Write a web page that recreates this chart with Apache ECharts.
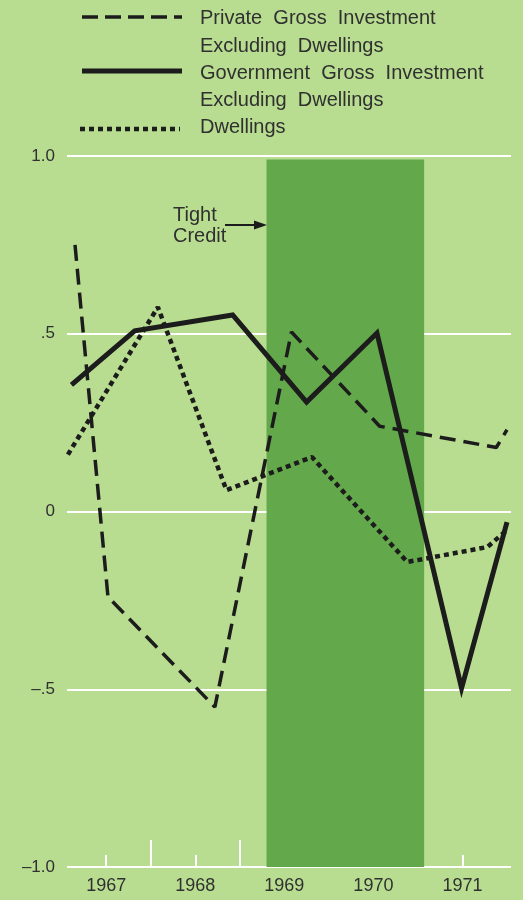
<!DOCTYPE html>
<html lang="en">
<head>
	<meta charset="UTF-8">
	<title>Investment and Tight Credit</title>
	<script src="https://cdn.jsdelivr.net/npm/echarts@6/dist/echarts.min.js"></script>
	<style>
		html, body { margin: 0; padding: 0; background: #b8dd90; }
		#main { width: 523px; height: 900px; }
	</style>
</head>
<body>
	<div id="main"></div>
<script>
// values, x in years
var privateYears = [1967.15, 1967.52, 1968.72, 1969.58, 1970.57, 1971.88, 1972.0];
var privateValues = [0.75, -0.24, -0.55, 0.505, 0.24, 0.18, 0.23];

var govYears = [1967.11, 1967.82, 1968.92, 1969.75, 1970.54, 1971.49, 1972.0];
var govValues = [0.356, 0.508, 0.553, 0.308, 0.502, -0.497, -0.03];

var dwellYears = [1967.07, 1968.08, 1968.85, 1969.81, 1970.88, 1971.78, 1972.0];
var dwellValues = [0.16, 0.575, 0.06, 0.153, -0.142, -0.10, -0.052];

// tight credit period
var tightStart = 1969.30;
var tightEnd = 1971.07;

var yearLabels = ['1967', '1968', '1969', '1970', '1971'];
var yearLabelAt = [1967.5, 1968.5, 1969.5, 1970.5, 1971.5];
var longTicks = [1968, 1969];
var shortTicks = [1967.5, 1968.5, 1971.5];

var yTickValues = [-1, -0.5, 0, 0.5, 1];
var yTickLabels = ['\u20131.0', '\u2013.5', '0', '.5', '1.0'];

function pairs(xs, ys) {
	return xs.map(function (x, i) { return [x, ys[i]]; });
}

var ink = '#1c1c1c';
var textColor = '#303030';
var font = '"Liberation Sans", Arial, sans-serif';

var chart = echarts.init(document.getElementById('main'));

var xBase = {
	type: 'value',
	min: 1967.06,
	max: 1972.045,
	position: 'bottom',
	axisLine: { show: false, onZero: false },
	splitLine: { show: false }
};

var option = {
	backgroundColor: '#b8dd90',
	animation: false,
	grid: { left: 67, right: 12, top: 156, bottom: 33 },
	xAxis: [
		Object.assign({}, xBase, {
			axisTick: { show: true, inside: true, length: 27, customValues: longTicks,
				lineStyle: { color: '#ffffff', width: 2 } },
			axisLabel: { show: false }
		}),
		Object.assign({}, xBase, {
			axisTick: { show: true, inside: true, length: 12, customValues: shortTicks,
				lineStyle: { color: '#ffffff', width: 2 } },
			axisLabel: {
				customValues: yearLabelAt,
				margin: 10,
				color: textColor,
				fontFamily: font,
				fontSize: 18,
				formatter: function (v) {
					var i = yearLabelAt.indexOf(v);
					return i >= 0 ? yearLabels[i] : '';
				}
			}
		})
	],
	yAxis: {
		type: 'value',
		min: -1,
		max: 1,
		interval: 0.5,
		axisLine: { show: false },
		axisTick: { show: false },
		splitLine: { show: true, lineStyle: { color: '#ffffff', width: 2 } },
		axisLabel: {
			margin: 12,
			color: textColor,
			fontFamily: font,
			fontSize: 17,
			formatter: function (v) {
				var i = yTickValues.indexOf(v);
				return i >= 0 ? yTickLabels[i] : '';
			}
		}
	},
	series: [
		{
			name: 'Tight Credit',
			type: 'line',
			z: 1,
			data: [],
			silent: true,
			markArea: {
				silent: true,
				itemStyle: { color: '#63a94b', opacity: 1 },
				data: [[{ xAxis: tightStart, yAxis: 0.99 }, { xAxis: tightEnd, yAxis: -1 }]]
			}
		},
		{
			name: 'Private Gross Investment Excluding Dwellings',
			type: 'line',
			z: 3,
			showSymbol: false,
			data: pairs(privateYears, privateValues),
			lineStyle: { color: ink, width: 3.5, type: [16, 8], cap: 'butt' }
		},
		{
			name: 'Government Gross Investment Excluding Dwellings',
			type: 'line',
			z: 4,
			showSymbol: false,
			data: pairs(govYears, govValues),
			lineStyle: { color: ink, width: 5, join: 'miter' }
		},
		{
			name: 'Dwellings',
			type: 'line',
			z: 3,
			showSymbol: false,
			data: pairs(dwellYears, dwellValues),
			lineStyle: { color: ink, width: 4.5, type: [5, 4], cap: 'butt' }
		}
	],
	graphic: [
		// legend samples
		{ type: 'line', shape: { x1: 82, y1: 17, x2: 182, y2: 17 },
			style: { stroke: ink, lineWidth: 3.5, lineDash: [16, 7] } },
		{ type: 'line', shape: { x1: 82, y1: 71, x2: 182, y2: 71 },
			style: { stroke: ink, lineWidth: 5 } },
		{ type: 'line', shape: { x1: 80, y1: 129, x2: 180, y2: 129 },
			style: { stroke: ink, lineWidth: 4.5, lineDash: [5, 4] } },
		// legend texts
		{ type: 'text', x: 200, y: 18, style: { text: 'Private  Gross  Investment', fill: textColor,
			font: '20px ' + font, verticalAlign: 'middle', textVerticalAlign: 'middle' } },
		{ type: 'text', x: 200, y: 46, style: { text: 'Excluding  Dwellings', fill: textColor,
			font: '20px ' + font, verticalAlign: 'middle', textVerticalAlign: 'middle' } },
		{ type: 'text', x: 200, y: 73, style: { text: 'Government  Gross  Investment', fill: textColor,
			font: '20px ' + font, verticalAlign: 'middle', textVerticalAlign: 'middle' } },
		{ type: 'text', x: 200, y: 100, style: { text: 'Excluding  Dwellings', fill: textColor,
			font: '20px ' + font, verticalAlign: 'middle', textVerticalAlign: 'middle' } },
		{ type: 'text', x: 200, y: 127, style: { text: 'Dwellings', fill: textColor,
			font: '20px ' + font, verticalAlign: 'middle', textVerticalAlign: 'middle' } },
		// tight credit annotation
		{ type: 'text', x: 173, y: 215, style: { text: 'Tight', fill: textColor,
			font: '20px ' + font, verticalAlign: 'middle', textVerticalAlign: 'middle' } },
		{ type: 'text', x: 173, y: 236, style: { text: 'Credit', fill: textColor,
			font: '20px ' + font, verticalAlign: 'middle', textVerticalAlign: 'middle' } },
		{ type: 'line', shape: { x1: 225, y1: 225, x2: 258, y2: 225 },
			style: { stroke: ink, lineWidth: 2 } },
		{ type: 'polygon', shape: { points: [[254, 220.5], [267, 225], [254, 229.5]] },
			style: { fill: ink } }
	]
};

chart.setOption(option);
</script>
</body>
</html>
